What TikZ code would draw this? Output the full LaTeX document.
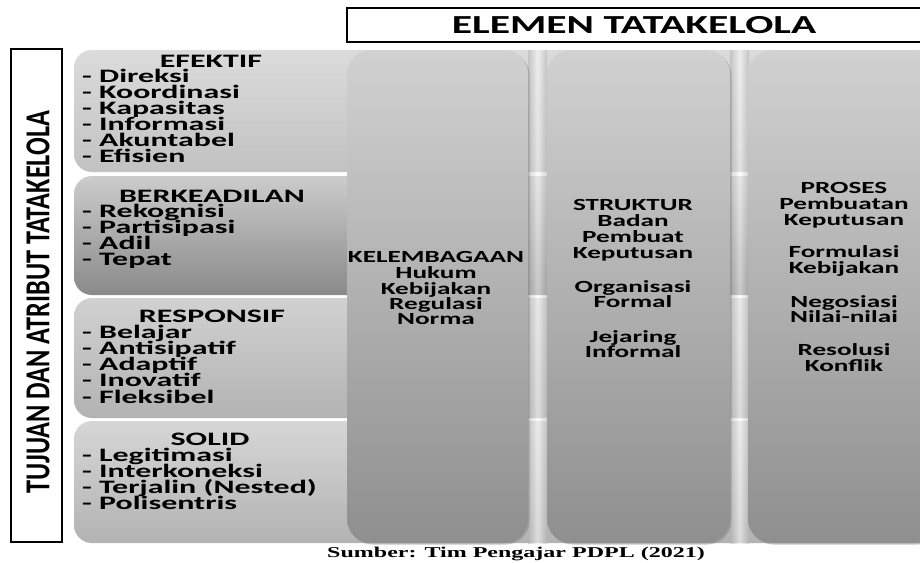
\documentclass[tikz,border=0pt]{standalone}
\usepackage{fontspec}
\setmainfont{Carlito}
\newfontfamily\widebold[FakeStretch=1.6]{Carlito Bold}
\newfontfamily\widerbold[FakeStretch=1.68]{Carlito Bold}
\newfontfamily\narrowsans[FakeStretch=0.75]{Carlito Bold}
\newfontfamily\widESerif[FakeStretch=1.6]{Liberation Serif Bold}
\usepackage{tikz}
\usetikzlibrary{shadows}
\newcommand\listfont{\widerbold\fontsize{19}{16}\selectfont}
\newcommand\colfont{\widebold\fontsize{17}{16}\selectfont}
\newcommand\titlefont{\widebold\fontsize{26}{28}\selectfont}
\newcommand\sidefont{\narrowsans\fontsize{35}{38}\selectfont}
\newcommand\srcfont{\widESerif\fontsize{15}{16}\selectfont}

\begin{document}
\begin{tikzpicture}[x=1pt, y=-1pt,
  listtext/.style={font=\listfont, anchor=base west, inner sep=0pt},
  headtext/.style={font=\listfont, anchor=base, inner sep=0pt},
  coltext/.style={font=\colfont, anchor=base, inner sep=0pt},
  rowpanel/.style={rounded corners=18pt},
  column/.style={rounded corners=24pt, top color=black!18, bottom color=black!44,
    drop shadow={shadow xshift=1.5pt, shadow yshift=-1.5pt, opacity=.45}},
  gapband/.style={left color=black!30, right color=black!30, middle color=white, opacity=.55}]
\useasboundingbox (0,0) rectangle (920,562);
\clip (0,0) rectangle (920,562);
\fill[white] (0,0) rectangle (920,562);

% rows behind the columns
\shade[rowpanel, top color=black!14, bottom color=black!24] (74,50) rectangle (940,172);
\shade[rowpanel, top color=black!20, bottom color=black!46] (74,176) rectangle (940,295);
\shade[rowpanel, top color=black!18, bottom color=black!30] (74,298) rectangle (940,418);
\shade[rowpanel, top color=black!16, bottom color=black!30] (74,421) rectangle (940,543);
\foreach \gx in {528,730}
  \shade[gapband] (\gx,50) rectangle ({\gx+19},543);

% columns
\path[column] (347,50) rectangle (528,543);
\path[column] (547,50) rectangle (730,543);
\path[column] (748,50) rectangle (940,543);

% frames
\draw[line width=2pt] (347,8) rectangle (940,42);
\node[font=\titlefont] (title) at (634,25) {ELEMEN TATAKELOLA};
\draw[line width=2pt] (11,49) rectangle (62,542);
\node[rotate=90, font=\sidefont] (side) at (38,302) {TUJUAN DAN ATRIBUT TATAKELOLA};

% attributes
\node[headtext] (efektif) at (211,67) {EFEKTIF};
\foreach \t [count=\i] in {Direksi, Koordinasi, Kapasitas, Informasi, Akuntabel, Efisien}
  \node[listtext] (efektif-\i) at (82,{66+16.1*\i}) {- \t};
\node[headtext] (adil) at (212,202) {BERKEADILAN};
\foreach \t [count=\i] in {Rekognisi, Partisipasi, Adil, Tepat}
  \node[listtext] (adil-\i) at (82,{201+16.1*\i}) {- \t};
\node[headtext] (responsif) at (212,322) {RESPONSIF};
\foreach \t [count=\i] in {Belajar, Antisipatif, Adaptif, Inovatif, Fleksibel}
  \node[listtext] (responsif-\i) at (82,{322+16.2*\i}) {- \t};
\node[headtext] (solid) at (210,445) {SOLID};
\foreach \t [count=\i] in {Legitimasi, Interkoneksi, Terjalin (Nested), Polisentris}
  \node[listtext] (solid-\i) at (82,{445+16.2*\i}) {- \t};

% elements
\foreach \t/\y [count=\i] in {KELEMBAGAAN/262, Hukum/278, Kebijakan/294, Regulasi/309, Norma/324}
  \node[coltext] (lembaga-\i) at (436,\y) {\t};
\foreach \t/\y [count=\i] in {STRUKTUR/210, Badan/226, Pembuat/242, Keputusan/258,
    Organisasi/292, Formal/307, Jejaring/342, Informal/357}
  \node[coltext] (struktur-\i) at (633,\y) {\t};
\foreach \t/\y [count=\i] in {PROSES/193, Pembuatan/209, Keputusan/225, Formulasi/257,
    Kebijakan/273, Negosiasi/307, Nilai-nilai/322, Resolusi/355, Konflik/371}
  \node[coltext] (proses-\i) at (844,\y) {\t};

\node[font=\srcfont, anchor=base] (source) at (516,557) {Sumber: Tim Pengajar PDPL (2021)};
\end{tikzpicture}
\end{document}
